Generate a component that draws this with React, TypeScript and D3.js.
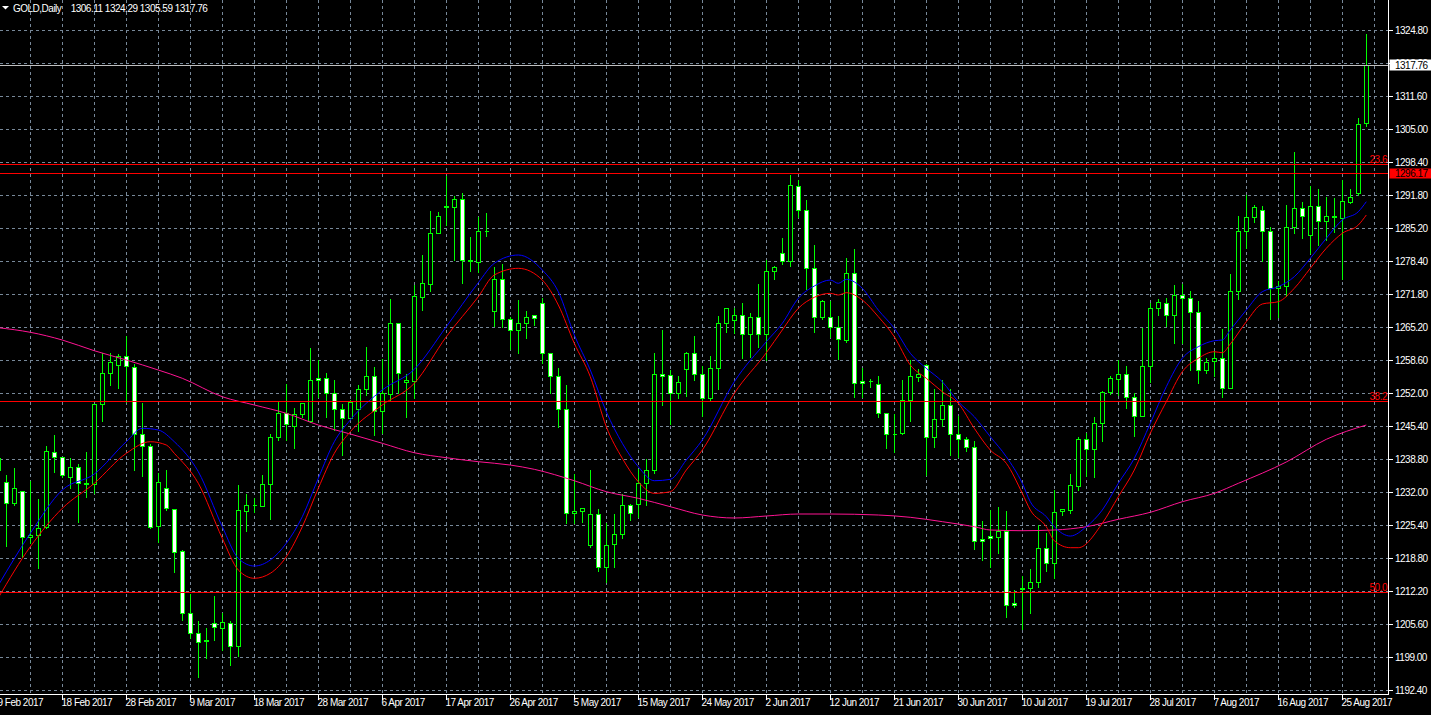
import * as d3 from 'd3';

const width = 1431;
const height = 715;
const plotRight = 1388.5;
const plotBottom = 694.5;

const symbol = 'GOLD,Daily';

// daily candles, oldest first
const opens = [
  1236.55, 1234.08, 1229.87, 1232.4, 1223.16, 1223.5, 1225.05, 1240.22, 1239.1, 1235.09,
  1237.09, 1233.88, 1233.68, 1249.74, 1255.96, 1257.62, 1259.49, 1257.28, 1243.78, 1241.37,
  1225.37, 1232.88, 1228.66, 1220.29, 1207.79, 1203.78, 1202.38, 1205.93, 1204.93, 1205.81,
  1201.29, 1228.38, 1229.46, 1229.38, 1233.68, 1243.11, 1248.05, 1245.44, 1247.73, 1246.45,
  1254.96, 1254.96, 1251.94, 1248.73, 1246.93, 1248.73, 1252.87, 1255.36, 1248.39, 1251.74,
  1265.99, 1254.15, 1254.47, 1271.33, 1273.82, 1284.06, 1289.48, 1289.4, 1290.88, 1278.64,
  1278.24, 1284.54, 1268.56, 1274.82, 1266.95, 1264.74, 1265.99, 1267.61, 1270.01, 1259.98,
  1255.48, 1248.73, 1227.87, 1228.38, 1221.5, 1227.67, 1217.14, 1221.64, 1223.64, 1229.53,
  1229.67, 1233.88, 1236.55, 1255.82, 1255.56, 1251.94, 1256.76, 1259.98, 1255.76, 1251.06,
  1256.96, 1265.99, 1266.6, 1267.69, 1263.85, 1267.21, 1263.85, 1276.51, 1280.04, 1278.5,
  1293.61, 1288.81, 1277.03, 1267.21, 1267.21, 1265.31, 1262.64, 1276.15, 1254.41, 1254.41,
  1253.75, 1247.93, 1243.78, 1244.04, 1250.6, 1255.28, 1257.62, 1243.11, 1246.73, 1249.54,
  1243.72, 1242.71, 1241.23, 1222.7, 1223.3, 1223.16, 1224.3, 1209.82, 1212.83, 1212.83,
  1214.0, 1220.83, 1217.82, 1228.32, 1228.52, 1233.4, 1242.71, 1240.71, 1245.92, 1252.27,
  1254.75, 1255.76, 1251.14, 1247.45, 1257.48, 1268.99, 1270.01, 1267.75, 1271.67, 1271.01,
  1268.34, 1256.62, 1258.5, 1258.97, 1252.95, 1272.54, 1284.54, 1287.39, 1288.81, 1284.54,
  1273.02, 1273.54, 1285.28, 1289.08, 1283.79, 1289.54, 1286.59, 1287.39, 1287.19, 1290.4,
  1292.08, 1306.11,
];
const highs = [
  1241.57, 1235.69, 1237.21, 1232.54, 1234.54, 1230.87, 1241.57, 1243.78, 1239.36, 1239.22,
  1237.9, 1240.36, 1249.74, 1260.17, 1260.17, 1259.97, 1263.65, 1257.96, 1250.26, 1241.91,
  1236.21, 1236.75, 1228.86, 1220.63, 1211.81, 1206.45, 1205.13, 1211.46, 1208.15, 1206.45,
  1233.82, 1232.0, 1231.2, 1235.75, 1243.92, 1250.6, 1253.95, 1249.26, 1250.06, 1261.3,
  1258.77, 1256.16, 1254.81, 1249.94, 1250.8, 1253.81, 1261.44, 1257.42, 1258.97, 1271.01,
  1266.19, 1255.96, 1273.88, 1279.9, 1288.73, 1288.53, 1295.76, 1291.74, 1292.28, 1283.5,
  1287.47, 1288.27, 1277.5, 1278.04, 1267.41, 1270.81, 1268.7, 1267.61, 1271.33, 1260.3,
  1257.28, 1253.81, 1235.89, 1228.86, 1236.75, 1228.86, 1226.18, 1227.87, 1231.88, 1229.87,
  1236.89, 1238.9, 1260.3, 1264.85, 1256.76, 1255.62, 1260.5, 1263.65, 1257.62, 1259.63,
  1267.75, 1269.31, 1269.31, 1270.21, 1268.34, 1274.02, 1278.9, 1277.71, 1283.25, 1295.96,
  1294.9, 1291.01, 1281.9, 1270.81, 1270.67, 1267.61, 1279.24, 1281.05, 1257.16, 1254.95,
  1255.62, 1248.25, 1247.93, 1254.75, 1258.77, 1256.96, 1258.09, 1252.95, 1254.75, 1252.95,
  1247.59, 1243.37, 1242.57, 1226.52, 1228.73, 1229.33, 1228.52, 1212.63, 1215.5, 1216.82,
  1225.72, 1224.16, 1232.68, 1228.86, 1235.89, 1243.37, 1244.26, 1247.45, 1252.61, 1255.62,
  1258.77, 1257.62, 1252.27, 1265.19, 1270.33, 1271.01, 1271.21, 1273.88, 1274.02, 1272.68,
  1270.67, 1259.16, 1260.64, 1264.99, 1276.03, 1287.73, 1291.94, 1289.94, 1289.74, 1285.52,
  1274.68, 1289.94, 1300.57, 1290.54, 1293.75, 1293.21, 1291.48, 1291.28, 1294.96, 1293.09,
  1307.46, 1324.29,
];
const lows = [
  1234.54, 1221.3, 1229.53, 1219.15, 1221.84, 1216.82, 1224.85, 1236.21, 1235.21, 1232.88,
  1226.06, 1231.07, 1231.88, 1246.45, 1253.61, 1252.95, 1250.14, 1236.55, 1235.35, 1224.85,
  1222.16, 1228.52, 1216.14, 1206.45, 1202.78, 1195.07, 1198.79, 1202.44, 1200.48, 1197.47,
  1199.25, 1224.37, 1228.06, 1229.38, 1226.72, 1242.57, 1242.57, 1241.03, 1247.25, 1246.25,
  1251.14, 1247.25, 1244.58, 1239.56, 1246.93, 1244.44, 1251.54, 1243.58, 1243.92, 1250.6,
  1251.94, 1247.13, 1250.94, 1268.7, 1272.48, 1284.06, 1285.72, 1278.7, 1274.14, 1276.57,
  1276.37, 1283.5, 1265.51, 1265.31, 1260.78, 1260.09, 1263.1, 1265.6, 1258.09, 1251.94,
  1245.24, 1225.86, 1225.86, 1226.18, 1221.16, 1216.34, 1214.13, 1217.02, 1222.84, 1226.52,
  1227.06, 1229.53, 1235.89, 1249.6, 1245.78, 1250.94, 1251.46, 1254.61, 1247.39, 1250.46,
  1252.75, 1264.31, 1263.99, 1259.09, 1259.29, 1261.3, 1258.57, 1274.82, 1277.85, 1277.5,
  1287.33, 1272.82, 1264.31, 1266.8, 1263.18, 1258.83, 1262.3, 1251.14, 1251.14, 1253.27,
  1247.25, 1240.91, 1240.22, 1243.78, 1246.45, 1254.47, 1235.55, 1241.11, 1245.38, 1239.56,
  1239.1, 1240.42, 1220.64, 1218.45, 1217.14, 1219.83, 1207.12, 1209.14, 1204.67, 1207.91,
  1213.12, 1216.34, 1214.82, 1227.51, 1227.98, 1232.54, 1235.35, 1235.09, 1242.43, 1251.74,
  1251.6, 1248.93, 1243.43, 1247.45, 1254.27, 1267.61, 1265.55, 1261.98, 1261.98, 1256.62,
  1253.95, 1256.08, 1255.42, 1251.26, 1252.95, 1270.81, 1281.05, 1286.39, 1278.56, 1266.95,
  1267.21, 1271.47, 1284.2, 1283.19, 1280.04, 1281.78, 1282.78, 1284.26, 1274.82, 1290.09,
  1291.74, 1305.59,
];
const closes = [
  1238.96, 1229.87, 1232.88, 1223.04, 1223.5, 1224.85, 1240.36, 1239.22, 1235.55, 1237.09,
  1234.0, 1233.68, 1249.74, 1255.96, 1258.17, 1259.49, 1257.42, 1243.78, 1241.37, 1225.17,
  1234.08, 1228.86, 1220.03, 1207.79, 1203.78, 1202.1, 1202.3, 1205.01, 1206.01, 1201.29,
  1228.52, 1229.46, 1229.53, 1233.74, 1243.11, 1248.05, 1245.72, 1247.73, 1249.94, 1254.61,
  1254.61, 1251.94, 1248.73, 1246.93, 1250.14, 1252.87, 1255.36, 1248.39, 1251.94, 1265.99,
  1255.96, 1254.61, 1271.47, 1274.02, 1284.06, 1287.47, 1289.4, 1290.88, 1278.7, 1278.56,
  1284.48, 1284.6, 1274.82, 1266.95, 1264.74, 1265.99, 1267.21, 1267.07, 1259.98, 1255.48,
  1248.73, 1227.87, 1228.38, 1228.86, 1227.67, 1217.14, 1221.5, 1223.64, 1229.53, 1227.98,
  1233.88, 1236.55, 1255.76, 1255.42, 1251.94, 1254.15, 1259.98, 1255.76, 1250.94, 1256.96,
  1265.99, 1268.99, 1267.69, 1263.85, 1267.21, 1263.85, 1276.51, 1277.25, 1278.5, 1293.75,
  1288.81, 1277.03, 1267.21, 1270.53, 1265.31, 1262.85, 1276.03, 1253.95, 1253.95, 1254.35,
  1247.93, 1243.72, 1243.72, 1250.6, 1255.42, 1255.82, 1243.11, 1246.79, 1249.6, 1243.72,
  1242.71, 1241.11, 1222.3, 1222.3, 1222.84, 1224.3, 1209.48, 1209.48, 1212.75, 1214.0,
  1220.83, 1217.82, 1228.18, 1228.72, 1233.54, 1242.71, 1240.71, 1245.92, 1252.27, 1254.96,
  1255.76, 1251.14, 1247.45, 1257.48, 1268.99, 1270.33, 1267.75, 1271.67, 1271.01, 1268.34,
  1256.62, 1258.17, 1258.97, 1252.95, 1272.54, 1284.54, 1287.39, 1289.4, 1284.54, 1273.02,
  1273.54, 1285.28, 1289.08, 1287.59, 1289.54, 1286.59, 1287.47, 1287.47, 1290.54, 1291.28,
  1305.93, 1317.76,
];

// moving averages: [bar, price]
const blueMa: [number, number][] = [
  [0, 1213.4], [4, 1223.85], [8, 1232.54], [12, 1235.75], [16, 1242.23], [18, 1244.92], [20, 1244.58],
  [22, 1242.23], [25, 1236.21], [28, 1225.17], [30, 1218.83], [32, 1217.28], [34, 1218.49], [36, 1221.84],
  [38, 1227.18], [40, 1234.89], [42, 1242.23], [44, 1246.59], [48, 1252.61], [52, 1256.76], [56, 1265.31],
  [60, 1274.14], [62, 1278.04], [65, 1279.7], [68, 1276.69], [70, 1272.34], [72, 1263.65], [74, 1256.62],
  [76, 1248.25], [78, 1241.91], [80, 1237.21], [82, 1234.4], [84, 1234.68], [86, 1238.56], [88, 1242.57],
  [92, 1254.27], [96, 1262.3], [98, 1265.99], [100, 1271.01], [102, 1273.48], [104, 1274.68], [105, 1274.02],
  [106, 1274.82], [108, 1273.02], [110, 1268.66], [112, 1264.99], [114, 1259.97], [116, 1256.96],
  [118, 1254.27], [120, 1250.26], [122, 1247.25], [124, 1243.23], [126, 1239.22], [128, 1233.88],
  [129, 1230.19], [131, 1227.18], [132, 1225.17], [134, 1223.3], [136, 1225.17], [138, 1228.52],
  [140, 1233.88], [142, 1238.9], [144, 1245.92], [146, 1253.27], [148, 1258.97], [150, 1261.3],
  [152, 1262.5], [153, 1262.64], [154, 1264.65], [156, 1268.66], [158, 1272.34], [160, 1273.34],
  [162, 1275.35], [164, 1279.04], [166, 1283.05], [168, 1286.73], [170, 1288.39], [171, 1290.4],
];
const redMa: [number, number][] = [
  [0, 1210.9], [4, 1221.16], [8, 1228.86], [12, 1233.88], [16, 1239.9], [19, 1242.23], [21, 1241.57],
  [22, 1239.9], [25, 1233.88], [28, 1222.84], [30, 1216.48], [32, 1214.82], [34, 1215.82], [36, 1219.15],
  [38, 1225.17], [40, 1232.88], [42, 1239.9], [44, 1244.24], [48, 1249.6], [52, 1253.95], [56, 1263.3],
  [60, 1271.33], [62, 1275.69], [65, 1277.03], [68, 1274.68], [70, 1269.67], [72, 1261.98], [74, 1255.28],
  [76, 1245.24], [78, 1238.9], [80, 1234.2], [82, 1231.87], [84, 1232.2], [86, 1236.55], [88, 1240.56],
  [92, 1251.94], [96, 1260.09], [98, 1264.65], [100, 1269.0], [102, 1271.21], [104, 1272.01], [105, 1271.67],
  [106, 1272.14], [108, 1270.67], [110, 1267.32], [112, 1263.3], [114, 1257.62], [116, 1254.96],
  [118, 1252.27], [120, 1249.94], [122, 1244.92], [124, 1240.56], [126, 1237.9], [128, 1231.87],
  [129, 1228.52], [131, 1225.17], [132, 1222.36], [134, 1220.96], [135, 1220.96], [138, 1225.86],
  [140, 1231.19], [142, 1236.55], [144, 1243.92], [146, 1250.26], [148, 1256.28], [150, 1258.97],
  [152, 1260.29], [153, 1260.09], [154, 1261.84], [156, 1266.31], [158, 1269.87], [160, 1270.33],
  [162, 1273.02], [164, 1277.03], [166, 1281.05], [168, 1284.06], [170, 1285.72], [171, 1287.73],
];
const pinkMa: [number, number][] = [
  [0, 1265.11], [4, 1264.19], [8, 1262.64], [12, 1260.49], [16, 1258.63], [20, 1256.62], [23, 1254.96],
  [28, 1251.26], [32, 1249.6], [36, 1247.93], [40, 1245.58], [44, 1243.78], [48, 1241.91], [52, 1240.02],
  [56, 1239.02], [60, 1238.22], [64, 1237.55], [67, 1236.69], [72, 1234.4], [76, 1232.2], [80, 1230.87],
  [84, 1229.19], [88, 1227.52], [92, 1226.92], [96, 1227.32], [100, 1227.72], [104, 1227.72], [110, 1227.52],
  [114, 1227.06], [118, 1226.18], [122, 1225.17], [124, 1224.51], [128, 1224.37], [132, 1224.51],
  [136, 1225.17], [140, 1226.66], [144, 1228.06], [148, 1230.19], [152, 1231.87], [155, 1233.88],
  [161, 1238.16], [166, 1242.71], [171, 1245.58],
];

// fibonacci retracement anchors and levels shown
const fibTop = 1374.6;
const fibBottom = 1049.6;
const fibLevels = [23.6, 38.2, 50.0];
const hLinePrice = 1296.17;

const priceLabels = [
  '1192.40', '1199.00', '1205.60', '1212.20', '1218.80', '1225.40', '1232.00',
  '1238.80', '1245.40', '1252.00', '1258.60', '1265.20', '1271.80', '1278.40',
  '1285.20', '1291.80', '1298.40', '1305.00', '1311.60', '1318.20', '1324.80',
];
const dateLabels = [
  '9 Feb 2017', '18 Feb 2017', '28 Feb 2017', '9 Mar 2017', '18 Mar 2017', '28 Mar 2017',
  '6 Apr 2017', '17 Apr 2017', '26 Apr 2017', '5 May 2017', '15 May 2017', '24 May 2017',
  '2 Jun 2017', '12 Jun 2017', '21 Jun 2017', '30 Jun 2017', '10 Jul 2017', '19 Jul 2017',
  '28 Jul 2017', '7 Aug 2017', '16 Aug 2017', '25 Aug 2017',
];

const priceMin = 1192.4;
const priceMax = 1324.8;

const x = d3.scaleLinear().domain([0, 171]).range([-1.7, 1366.3]);
const y = d3.scaleLinear().domain([priceMin, priceMax]).range([690, 30.3]);

const px = (i: number) => Math.floor(x(i)) + 0.5;
const py = (p: number) => Math.round(y(p)) + 0.5;

const font = {
  fontFamily: "'Liberation Sans', Arial, sans-serif",
  fontSize: 10,
  letterSpacing: '-0.5px',
};

const GRID = '#778899';
const CANDLE = '#00ff00';

export default function App() {
  const gridPrices = d3.range(priceLabels.length).map(
    (k) => priceMin + (k * (priceMax - priceMin)) / (priceLabels.length - 1)
  );
  const gridBars = d3.range(4, 173, 4);
  const maLine = d3
    .line<[number, number]>()
    .x((d) => x(d[0]))
    .y((d) => y(d[1]))
    .curve(d3.curveMonotoneX);
  const last = opens.length - 1;
  const fibPrice = (lvl: number) => fibTop - (lvl / 100) * (fibTop - fibBottom);

  return (
    <div>
      <style>{'body{margin:0;background:#000;}'}</style>
      <svg width={width} height={height} style={{ display: 'block', background: '#000' }}>
        <rect x={0} y={0} width={width} height={height} fill="#000" />

        {/* grid */}
        <g shapeRendering="crispEdges" stroke={GRID} strokeDasharray="3,3">
          {gridPrices.map((p, k) => (
            <line key={'h' + k} x1={0} x2={plotRight} y1={py(p)} y2={py(p)} />
          ))}
          {gridBars.map((b) => (
            <line key={'v' + b} x1={px(b)} x2={px(b)} y1={0} y2={plotBottom} />
          ))}
        </g>

        {/* candles */}
        <g shapeRendering="crispEdges">
          {opens.map((o, i) => {
            const cx = px(i);
            const yo = py(o);
            const yc = py(closes[i]);
            const top = Math.min(yo, yc);
            const bot = Math.max(yo, yc);
            const bull = closes[i] >= o;
            return (
              <g key={i}>
                <line x1={cx} x2={cx} y1={py(highs[i])} y2={py(lows[i])} stroke={CANDLE} />
                {bot - top < 1 ? (
                  <line x1={cx - 2} x2={cx + 2} y1={top} y2={top} stroke={CANDLE} />
                ) : (
                  <rect
                    x={cx - 2}
                    y={top}
                    width={4}
                    height={bot - top}
                    fill={bull ? '#000' : '#fff'}
                    stroke={CANDLE}
                  />
                )}
              </g>
            );
          })}
        </g>

        {/* moving averages */}
        <path d={maLine(pinkMa) ?? ''} fill="none" stroke="#ff1493" strokeWidth={1} />
        <path d={maLine(redMa) ?? ''} fill="none" stroke="#ff0000" strokeWidth={1} />
        <path d={maLine(blueMa) ?? ''} fill="none" stroke="#0000ff" strokeWidth={1} />

        {/* objects */}
        <g shapeRendering="crispEdges">
          {fibLevels.map((lvl) => (
            <line key={lvl} x1={0} x2={plotRight} y1={py(fibPrice(lvl))} y2={py(fibPrice(lvl))} stroke="#ff0000" />
          ))}
          <line x1={0} x2={plotRight} y1={py(hLinePrice)} y2={py(hLinePrice)} stroke="#ff0000" />
          <line x1={0} x2={plotRight} y1={py(closes[last])} y2={py(closes[last])} stroke="#c0c0c0" />
        </g>
        {fibLevels.map((lvl) => (
          <text key={'t' + lvl} x={1387} y={py(fibPrice(lvl)) - 2} textAnchor="end" fill="#ff0000" {...font}>
            {lvl.toFixed(1)}
          </text>
        ))}

        {/* axes */}
        <g shapeRendering="crispEdges" stroke="#fff">
          <line x1={plotRight} x2={plotRight} y1={0} y2={plotBottom} />
          <line x1={0} x2={plotRight} y1={plotBottom} y2={plotBottom} />
          {gridPrices.map((p, k) => (
            <line key={'pt' + k} x1={plotRight} x2={plotRight + 4} y1={py(p)} y2={py(p)} />
          ))}
          {dateLabels.map((_, k) => (
            <line key={'dt' + k} x1={px(k * 8)} x2={px(k * 8)} y1={plotBottom} y2={plotBottom + 5} />
          ))}
        </g>
        <g fill="#fff" {...font}>
          {gridPrices.map((p, k) => (
            <text key={'pl' + k} x={1395} y={py(p)} dy="0.35em">
              {priceLabels[k]}
            </text>
          ))}
          {dateLabels.map((d, k) => (
            <text key={'dl' + k} x={px(k * 8) - 1} y={706}>
              {d}
            </text>
          ))}
        </g>

        {/* price markers */}
        <rect x={plotRight + 1} y={py(closes[last]) - 6} width={width - plotRight} height={11} fill="#fff" />
        <text x={1395} y={py(closes[last])} dy="0.35em" fill="#000" {...font}>
          {closes[last].toFixed(2)}
        </text>
        <rect x={plotRight + 1} y={py(hLinePrice) - 5} width={width - plotRight} height={10} fill="#ff0000" />
        <text x={1395} y={py(hLinePrice)} dy="0.35em" fill="#000" {...font}>
          {hLinePrice.toFixed(2)}
        </text>

        {/* header */}
        <polygon points="2,6 9,6 5.5,9.5" fill="#fff" />
        <text x={13} y={11.5} fill="#fff" {...font} xmlSpace="preserve">
          {symbol}
        </text>
        <text x={70.7} y={11.5} fill="#fff" {...font} xmlSpace="preserve">
          {[opens[last], highs[last], lows[last], closes[last]].map((v) => v.toFixed(2)).join(' ')}
        </text>
      </svg>
    </div>
  );
}
